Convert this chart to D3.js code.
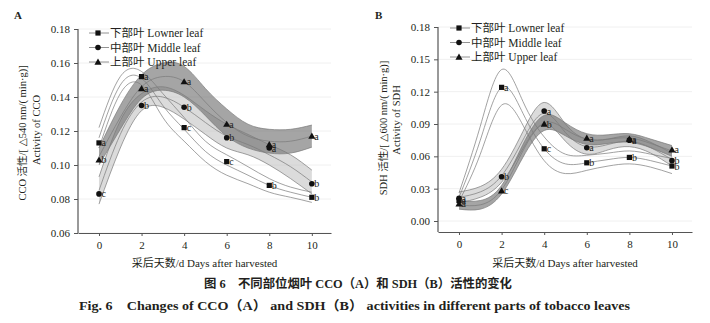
<!DOCTYPE html>
<html><head><meta charset="utf-8">
<script src="https://cdn.jsdelivr.net/npm/d3@7"></script>
<style>
body{margin:0;background:#fff;}
svg{display:block;}
text{font-family:"Liberation Serif","DejaVu Serif","Noto Sans CJK SC",serif;fill:#231f20;}
</style></head><body>
<svg id="chart" width="710" height="323"></svg>
<script>
// ---------- data ----------
const days = [0, 2, 4, 6, 8, 10];
const fitDays = [0, 1, 2, 3, 4, 5, 6, 7, 8, 9, 10];
const seriesNames = ["下部叶 Lowner leaf", "中部叶 Middle leaf", "上部叶 Upper leaf"];

// Panel A: CCO activity
const ccoLower  = [0.113, 0.152, 0.122, 0.102, 0.088, 0.081];
const ccoMiddle = [0.083, 0.135, 0.134, 0.116, 0.110, 0.089];
const ccoUpper  = [0.103, 0.145, 0.149, 0.124, 0.112, 0.117];
const ccoLowerLetters  = ["a", "a", "c", "c", "b", "b"];
const ccoMiddleLetters = ["c", "b", "b", "b", "a", "b"];
const ccoUpperLetters  = ["b", "a", "a", "a", "a", "a"];
// fitted curves (centre) and band half-widths, read at each day
const ccoLowerFit    = [0.116, 0.147, 0.151, 0.135, 0.121, 0.108, 0.100, 0.094, 0.088, 0.084, 0.081];
const ccoLowerBand   = [0.006, 0.005, 0.004, 0.007, 0.007, 0.006, 0.006, 0.005, 0.004, 0.003, 0.003];
const ccoMiddleFit   = [0.085, 0.118, 0.137, 0.140, 0.134, 0.125, 0.117, 0.112, 0.106, 0.099, 0.090];
const ccoMiddleBand  = [0.008, 0.008, 0.005, 0.006, 0.007, 0.007, 0.007, 0.006, 0.006, 0.007, 0.007];
const ccoUpperFit    = [0.105, 0.128, 0.146, 0.152, 0.149, 0.137, 0.125, 0.117, 0.114, 0.114, 0.117];
const ccoUpperBand   = [0.005, 0.007, 0.007, 0.008, 0.009, 0.008, 0.008, 0.007, 0.007, 0.007, 0.0065];
const ccoTicks = [0.06, 0.08, 0.10, 0.12, 0.14, 0.16, 0.18];

// Panel B: SDH activity
const sdhLower  = [0.019, 0.124, 0.067, 0.054, 0.059, 0.051];
const sdhMiddle = [0.021, 0.041, 0.102, 0.068, 0.075, 0.056];
const sdhUpper  = [0.016, 0.028, 0.090, 0.077, 0.076, 0.066];
const sdhLowerLetters  = ["a", "a", "c", "b", "b", "b"];
const sdhMiddleLetters = ["a", "b", "a", "a", "a", "b"];
const sdhUpperLetters  = ["a", "c", "b", "a", "a", "a"];
const sdhLowerFit    = [0.022, 0.075, 0.124, 0.100, 0.067, 0.053, 0.054, 0.057, 0.059, 0.056, 0.051];
const sdhLowerBand   = [0.004, 0.013, 0.0165, 0.011, 0.011, 0.009, 0.007, 0.006, 0.006, 0.006, 0.007];
const sdhMiddleFit   = [0.022, 0.027, 0.042, 0.075, 0.100, 0.082, 0.069, 0.071, 0.074, 0.068, 0.057];
const sdhMiddleBand  = [0.005, 0.005, 0.006, 0.008, 0.010, 0.008, 0.007, 0.005, 0.005, 0.005, 0.006];
const sdhUpperFit    = [0.015, 0.015, 0.029, 0.065, 0.091, 0.085, 0.076, 0.076, 0.077, 0.072, 0.065];
const sdhUpperBand   = [0.004, 0.004, 0.004, 0.006, 0.007, 0.006, 0.005, 0.004, 0.004, 0.004, 0.005];
const sdhTicks = [0.00, 0.03, 0.06, 0.09, 0.12, 0.15, 0.18];

const xTicks = [0, 2, 4, 6, 8, 10];

// ---------- drawing ----------
const svg = d3.select("#chart");

function marker(g, type, x, y) {
  if (type === 0) g.append("rect").attr("x", x - 2.6).attr("y", y - 2.6).attr("width", 5.2).attr("height", 5.2).attr("fill", "#111");
  else if (type === 1) g.append("circle").attr("cx", x).attr("cy", y).attr("r", 2.8).attr("fill", "#111");
  else g.append("path").attr("d", d3.symbol(d3.symbolTriangle, 22)()).attr("transform", `translate(${x},${y + 0.6})`).attr("fill", "#111");
}

function drawPanel(p) {
  const x = d3.scaleLinear().domain(p.xDomain).range(p.xRange);
  const y = d3.scaleLinear().domain(p.yDomain).range(p.yRange);
  const g = svg.append("g");

  // faint grid
  g.selectAll("line.grid").data(p.yTicks).join("line")
    .attr("x1", p.xRange[0]).attr("x2", p.xRange[1])
    .attr("y1", d => y(d)).attr("y2", d => y(d))
    .attr("stroke", "#f0f0f0").attr("stroke-width", 1);

  const fitPts = (c, hw, s) => fitDays.map((d, i) => [d, c[i] + s * hw[i]]);
  const line = d3.line().x(d => x(d[0])).y(d => y(d[1])).curve(d3.curveNatural);
  const area = d3.area().x(d => x(d.d)).y0(d => y(d.lo)).y1(d => y(d.hi)).curve(d3.curveNatural);

  const fills = [null, {c: "#b8b8b8", o: 0.5}, {c: "#6e6e6e", o: 0.62}];
  p.series.forEach((s, k) => {
    if (fills[k]) {
      g.append("path")
        .datum(fitDays.map((d, i) => ({d, lo: s.fit[i] - s.band[i], hi: s.fit[i] + s.band[i]})))
        .attr("d", area).attr("fill", fills[k].c).attr("fill-opacity", fills[k].o);
    }
  });
  p.series.forEach((s) => {
    [-1, 0, 1].forEach(sg => {
      g.append("path").datum(fitPts(s.fit, s.band, sg)).attr("d", line)
        .attr("fill", "none").attr("stroke", "#7a7a7a").attr("stroke-width", 0.7);
    });
  });

  // axes
  const ax = g.append("g").attr("transform", `translate(0,${p.yRange[0]})`)
    .call(d3.axisBottom(x).tickValues(xTicks).tickSize(3).tickSizeOuter(0).tickPadding(5));
  const ay = g.append("g").attr("transform", `translate(${p.xRange[0]},0)`)
    .call(d3.axisLeft(y).tickValues(p.yTicks).tickFormat(d3.format(".2f")).tickSize(4).tickSizeOuter(0).tickPadding(4));
  [ax, ay].forEach(a => {
    a.select(".domain").attr("stroke", "#555").attr("stroke-width", 1.2);
    a.selectAll(".tick line").attr("stroke", "#555");
    a.selectAll(".tick text").attr("font-size", 11).attr("fill", "#231f20")
      .attr("font-family", '"Liberation Serif",serif');
  });
  ay.select(".domain").attr("d", `M0,${p.yRange[0]}V${p.yRange[1]}`);

  // markers and letters
  p.series.forEach((s, k) => {
    days.forEach((d, i) => {
      marker(g, k, x(d), y(s.vals[i]));
      g.append("text").attr("x", x(d) + 2.5).attr("y", y(s.vals[i]) + 3.5)
        .attr("font-size", 10).text(s.letters[i]);
    });
  });

  // legend
  seriesNames.forEach((n, k) => {
    const ly = p.legend[1] + k * 14.5;
    g.append("line").attr("x1", p.legend[0]).attr("x2", p.legend[0] + 20)
      .attr("y1", ly).attr("y2", ly).attr("stroke", "#777").attr("stroke-width", 0.8);
    marker(g, k, p.legend[0] + 9, ly);
    g.append("text").attr("x", p.legend[0] + 21).attr("y", ly + 4).attr("font-size", 11.5).text(n);
  });

  // labels
  g.append("text").attr("x", p.letter[0]).attr("y", p.letter[1]).attr("font-size", 11)
    .attr("font-weight", "bold").text(p.name);
  g.append("text").attr("x", (p.xRange[0] + p.xRange[1]) / 2 - 0).attr("y", 267)
    .attr("text-anchor", "middle").attr("font-size", 11).text("采后天数/d Days after harvested");
  g.append("text").attr("transform", `translate(${p.ylab[0]},${p.ylab[2]}) rotate(-90)`)
    .attr("text-anchor", "middle").attr("font-size", 10.5).text(p.ytitle1);
  g.append("text").attr("transform", `translate(${p.ylab[1]},${p.ylab[3]}) rotate(-90)`)
    .attr("text-anchor", "middle").attr("font-size", 10.5).text(p.ytitle2);
}

drawPanel({
  name: "A", letter: [14, 19],
  xDomain: [-0.986, 10.9], xRange: [78, 331],
  yDomain: [0.06, 0.18], yRange: [233, 29], yTicks: ccoTicks,
  legend: [89, 33],
  ylab: [26, 40, 133, 130],
  ytitle1: "CCO 活性/[ △540 nm/( min·g)]", ytitle2: "Activity of CCO",
  series: [
    {vals: ccoLower, letters: ccoLowerLetters, fit: ccoLowerFit, band: ccoLowerBand},
    {vals: ccoMiddle, letters: ccoMiddleLetters, fit: ccoMiddleFit, band: ccoMiddleBand},
    {vals: ccoUpper, letters: ccoUpperLetters, fit: ccoUpperFit, band: ccoUpperBand}
  ]
});
drawPanel({
  name: "B", letter: [375, 19],
  xDomain: [-0.986, 10.94], xRange: [438, 692],
  yDomain: [-0.0102, 0.18], yRange: [232, 27], yTicks: sdhTicks,
  legend: [450, 28],
  ylab: [387, 400, 128, 120],
  ytitle1: "SDH 活性/[ △600 nm/( min·g)]", ytitle2: "Activity of SDH",
  series: [
    {vals: sdhLower, letters: sdhLowerLetters, fit: sdhLowerFit, band: sdhLowerBand},
    {vals: sdhMiddle, letters: sdhMiddleLetters, fit: sdhMiddleFit, band: sdhMiddleBand},
    {vals: sdhUpper, letters: sdhUpperLetters, fit: sdhUpperFit, band: sdhUpperBand}
  ]
});

// captions
svg.append("text").attr("x", 204).attr("y", 288)
  .attr("font-size", 12.5).attr("font-weight", "bold")
  .attr("textLength", 308).attr("lengthAdjust", "spacingAndGlyphs")
  .text("图 6　不同部位烟叶 CCO（A）和 SDH（B）活性的变化");
svg.append("text").attr("x", 79).attr("y", 310)
  .attr("font-size", 13).attr("font-weight", "bold")
  .attr("textLength", 551).attr("lengthAdjust", "spacingAndGlyphs")
  .text("Fig. 6　Changes of CCO（A） and SDH（B） activities in different parts of tobacco leaves");
</script></body></html>
